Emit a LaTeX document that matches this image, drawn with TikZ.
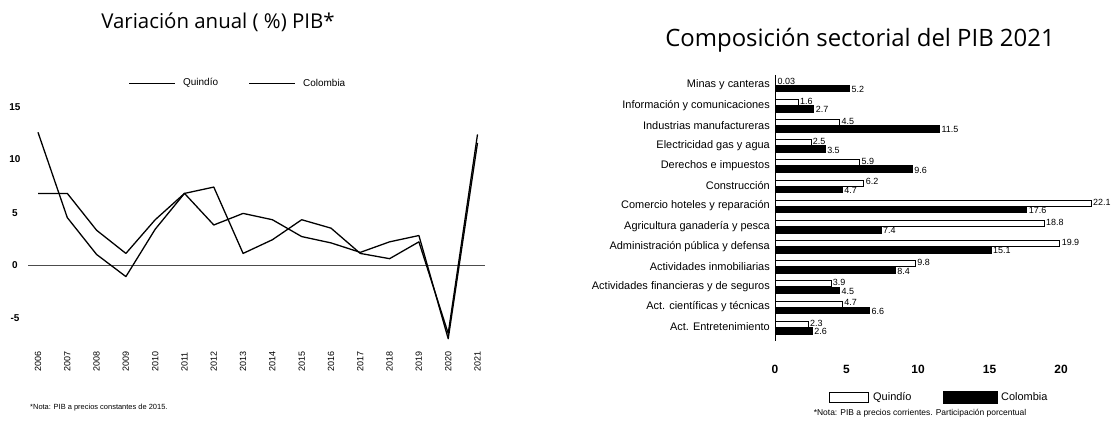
\documentclass[tikz,border=0pt]{standalone}
\usepackage{fontspec}
\setmainfont{Liberation Sans}
\newfontfamily\titlefont{Open Sans}
\tikzset{
  title/.style={font=\titlefont\fontsize{20.5}{24}\selectfont, inner sep=0pt},
  ticklab/.style={font=\bfseries\fontsize{10}{12}\selectfont, inner sep=0pt},
  yearlab/.style={font=\fontsize{9}{10}\selectfont, inner sep=0pt, rotate=90},
  leglab/.style={font=\fontsize{10}{12}\selectfont, inner sep=0pt, anchor=west},
  catlab/.style={font=\fontsize{11}{13}\selectfont, inner sep=0pt, anchor=east},
  vallab/.style={font=\fontsize{9}{10}\selectfont, inner sep=0pt, anchor=west},
  notelab/.style={font=\fontsize{7.5}{9}\selectfont, inner sep=0pt},
  dataline/.style={draw=black, line width=1.3pt, line join=round},
  zeroline/.style={draw=black!70, line width=1pt},
  qbar/.style={draw=black, line width=0.5pt, fill=white},
  cbar/.style={draw=black, fill=black},
}
\begin{document}
\begin{tikzpicture}[x=1bp, y=-1bp]
\useasboundingbox (0,0) rectangle (1117,427);
% titles
\node[title] (t1) at (218,22) {Variación anual ( \%) PIB*};
\node[title, font=\titlefont\fontsize{24}{28}\selectfont] (t2) at (860,40) {Composición sectorial del PIB 2021};

% ---------------- left chart ----------------
% legend
\coordinate (lq1) at (129,83); \coordinate (lq2) at (175,83);
\draw[dataline, line width=1pt] (lq1) -- (lq2);
\node[leglab] (lq) at (183,83) {Quindío};
\coordinate (lc1) at (249,83); \coordinate (lc2) at (295,83);
\draw[dataline, line width=1pt] (lc1) -- (lc2);
\node[leglab] (lc) at (303,83) {Colombia};
% y tick labels
\node[ticklab] (y15) at (15,107) {15};
\node[ticklab] (y10) at (15,159) {10};
\node[ticklab] (y5) at (15,213) {5};
\node[ticklab] (y0) at (15,265) {0};
\node[ticklab] (ym5) at (15,318) {-5};
% zero line
\coordinate (z1) at (28,265); \coordinate (z2) at (485,265);
\draw[zeroline] (z1) -- (z2);
\begin{scope}[shift={(38,265)}, x=29.3bp, y=10.53bp]
  % Quindio
  \draw[dataline] plot coordinates {(0,12.6) (1,4.5) (2,1.0) (3,-1.1) (4,3.4) (5,6.8) (6,7.4) (7,1.1) (8,2.4) (9,4.3) (10,3.5) (11,1.1) (12,0.6) (13,2.2) (14,-6.5) (15,12.4)};
  % Colombia
  \draw[dataline] plot coordinates {(0,6.8) (1,6.8) (2,3.3) (3,1.1) (4,4.3) (5,6.8) (6,3.8) (7,4.9) (8,4.3) (9,2.7) (10,2.1) (11,1.2) (12,2.2) (13,2.8) (14,-7.0) (15,11.6)};
  % year labels
  \foreach \yr [count=\i from 0] in {2006,2007,2008,2009,2010,2011,2012,2013,2014,2015,2016,2017,2018,2019,2020,2021}
    \node[yearlab] (yr\i) at (\i,-9.2) {\yr};
\end{scope}
\node[notelab, anchor=west] (n1) at (30,408) {*Nota: PIB a precios constantes de 2015.};

% ---------------- right chart ----------------
\begin{scope}[shift={(775,85)}, x=14.3bp, y=-20.17bp]
  \foreach \lab/\q/\c [count=\i from 0] in {
    Minas y canteras/0.03/5.2,
    Información y comunicaciones/1.6/2.7,
    Industrias manufactureras/4.5/11.5,
    Electricidad gas y agua/2.5/3.5,
    Derechos e impuestos/5.9/9.6,
    Construcción/6.2/4.7,
    Comercio hoteles y reparación/22.1/17.6,
    Agricultura ganadería y pesca/18.8/7.4,
    Administración pública y defensa/19.9/15.1,
    Actividades inmobiliarias/9.8/8.4,
    Actividades financieras y de seguros/3.9/4.5,
    Act. científicas y técnicas/4.7/6.6,
    Act. Entretenimiento/2.3/2.6}
  {
    \node[catlab] (cat\i) at ([xshift=-5bp]0,\i) {\lab};
    \path[qbar] (0,\i-0.3) rectangle (\q,\i);
    \path[cbar] (0,\i) rectangle (\c,\i+0.33);
    \node[vallab] (qv\i) at ([xshift=2bp]\q,\i-0.2) {\q};
    \node[vallab] (cv\i) at ([xshift=2bp]\c,\i+0.22) {\c};
  }
  \coordinate (ax1) at (0,-0.5); \coordinate (ax2) at (0,12.7);
  \draw[line width=0.6pt] (ax1) -- (ax2);
  \foreach \t in {0,5,10,15,20}
    \node[ticklab, font=\bfseries\fontsize{12}{14}\selectfont] (xt\t) at (\t,14.1) {\t};
\end{scope}
% legend
\path[qbar] (829,392) rectangle (868,402);
\node[leglab, font=\fontsize{11}{13}\selectfont] (rq) at (873,397) {Quindío};
\path[cbar] (943,391) rectangle (997,403);
\node[leglab, font=\fontsize{11}{13}\selectfont] (rc) at (1001,397) {Colombia};
\node[notelab, font=\fontsize{8.5}{10}\selectfont] (n2) at (920,413) {*Nota: PIB a precios corrientes. Participación porcentual};
\end{tikzpicture}
\end{document}
